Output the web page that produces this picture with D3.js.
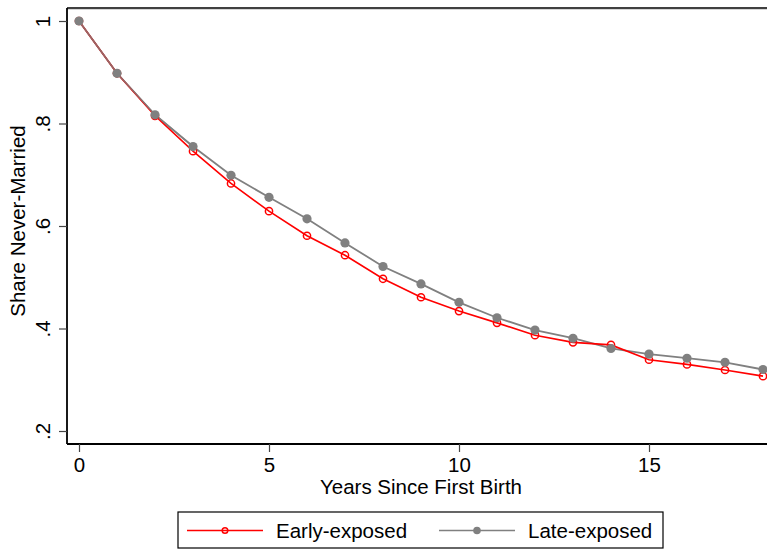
<!DOCTYPE html>
<html><head><meta charset="utf-8">
<script src="https://cdn.jsdelivr.net/npm/d3@7"></script>
<style>html,body{margin:0;padding:0;background:#fff;}svg{display:block;font-family:Arial,"Liberation Sans",sans-serif;}</style>
</head><body>
<svg id="c" width="767" height="549"></svg>
<script>
const years = [0,1,2,3,4,5,6,7,8,9,10,11,12,13,14,15,16,17,18];
const early = [1.0,0.898,0.815,0.746,0.683,0.629,0.581,0.543,0.497,0.461,0.434,0.411,0.387,0.373,0.368,0.339,0.330,0.319,0.307];
const late  = [1.0,0.898,0.817,0.755,0.699,0.656,0.614,0.567,0.521,0.487,0.451,0.421,0.397,0.381,0.361,0.350,0.342,0.334,0.320];
const xTicks = [0,5,10,15];
const yTicks = [0.2,0.4,0.6,0.8,1];
const yTickLabels = [".2",".4",".6",".8","1"];
const seriesNames = ["Early-exposed","Late-exposed"];

const FS = 20.5;
const svg = d3.select("#c");
const L = 67, T = 8, B = 444, R = 800;
const x = d3.scaleLinear().domain([0,18]).range([79,763]);
const y = d3.scaleLinear().domain([0.2,1]).range([431,21]);

// frame
svg.append("line").attr("x1",L).attr("x2",R).attr("y1",T).attr("y2",T).attr("stroke","#000").attr("stroke-width",1.6);
svg.append("line").attr("x1",L).attr("x2",R).attr("y1",T+1.5).attr("y2",T+1.5).attr("stroke","#bbb").attr("stroke-width",0.6);

// axes
const xAxis = d3.axisBottom(x).tickValues(xTicks).tickSize(8).tickPadding(5).tickFormat(d3.format("d"));
const gx = svg.append("g").attr("transform",`translate(0,${B})`).call(xAxis);
gx.select(".domain").attr("d",`M${L},0H${R}`).attr("stroke-width",1.8);
gx.selectAll(".tick line").attr("stroke-width",1.2).attr("stroke","#444");
gx.selectAll(".tick text").attr("font-size",FS).attr("font-family","Arial, 'Liberation Sans', sans-serif").attr("fill","#000");

const yAxis = d3.axisLeft(y).tickValues(yTicks).tickSize(8).tickFormat((d,i)=>yTickLabels[i]);
const gy = svg.append("g").attr("transform",`translate(${L},0)`).call(yAxis);
gy.select(".domain").attr("d",`M0,${T}V${B}`).attr("stroke-width",1.8);
gy.selectAll(".tick line").attr("stroke-width",1.2).attr("stroke","#444");
gy.selectAll(".tick text")
  .attr("font-size",FS).attr("font-family","Arial, 'Liberation Sans', sans-serif").attr("fill","#000")
  .attr("x",null).attr("dy",null)
  .attr("text-anchor","middle")
  .attr("transform","translate(-17,0) rotate(-90)");

// titles
svg.append("text").attr("x",421).attr("y",494).attr("text-anchor","middle")
  .attr("font-size",FS).text("Years Since First Birth");
svg.append("text").attr("transform","translate(25,221) rotate(-90)").attr("text-anchor","middle")
  .attr("font-size",FS).text("Share Never-Married");

// lines
const line = d3.line().x((d,i)=>x(years[i])).y(d=>y(d));
svg.append("path").datum(late).attr("d",line).attr("fill","none").attr("stroke","#808080").attr("stroke-width",1.8);
svg.append("path").datum(early).attr("d",line).attr("fill","none").attr("stroke","#ff0000").attr("stroke-width",1.6);
svg.append("path").datum(late.slice(0,4)).attr("d",line).attr("fill","none").attr("stroke","#808080").attr("stroke-width",1.5).attr("opacity",0.8);
svg.selectAll(".pe").data(early).enter().append("circle")
  .attr("cx",(d,i)=>x(years[i])).attr("cy",d=>y(d)).attr("r",3.6)
  .attr("fill","none").attr("stroke","#ff0000").attr("stroke-width",1.5);
svg.selectAll(".pl").data(late).enter().append("circle")
  .attr("cx",(d,i)=>x(years[i])).attr("cy",d=>y(d)).attr("r",4.6)
  .attr("fill","#808080");

// legend
svg.append("rect").attr("x",178).attr("y",512).attr("width",485).attr("height",36)
  .attr("fill","#fff").attr("stroke","#000").attr("stroke-width",1.2);
const lg = [{x0:187,x1:263,c:"#ff0000",open:true,tx:276},{x0:439,x1:515,c:"#808080",open:false,tx:528}];
lg.forEach((d,i)=>{
  svg.append("line").attr("x1",d.x0).attr("x2",d.x1).attr("y1",530.5).attr("y2",530.5).attr("stroke",d.c).attr("stroke-width",1.6);
  svg.append("circle").attr("cx",(d.x0+d.x1)/2).attr("cy",530.5).attr("r",d.open?2.8:3.8)
    .attr("fill",d.open?"none":d.c).attr("stroke",d.open?d.c:"none").attr("stroke-width",1.5);
  svg.append("text").attr("x",d.tx).attr("y",537.5).attr("font-size",FS).text(seriesNames[i]);
});
</script>
</body></html>
